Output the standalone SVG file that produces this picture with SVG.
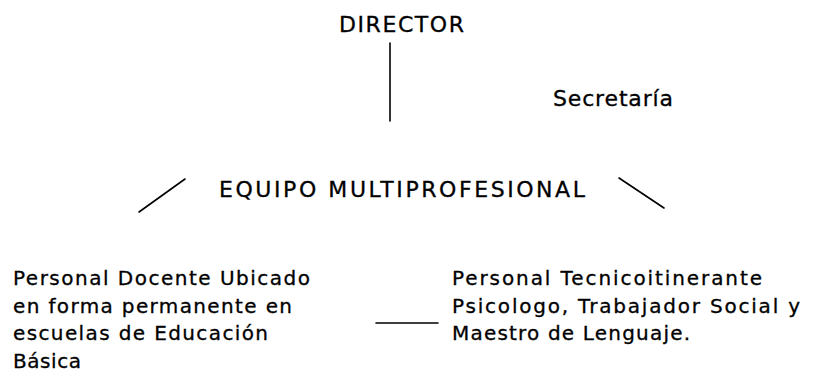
<svg xmlns="http://www.w3.org/2000/svg" width="813" height="377" viewBox="0 0 813 377">
<style>
  text { font-family: "DejaVu Sans", "Open Sans", sans-serif; fill: #000; stroke: #000; stroke-width: 0.3; }
  .h { font-size: 22px; }
  .b { font-size: 20px; }
  .ln { stroke: #000; stroke-width: 1.6; fill: none; stroke-linecap: round; }
</style>
<rect width="813" height="377" fill="#fff"/>
<g id="connectors">
  <line class="ln" x1="390" y1="43" x2="390" y2="121"/>
  <line class="ln" x1="139" y1="212" x2="185" y2="179"/>
  <line class="ln" x1="619" y1="178" x2="664" y2="208"/>
  <line class="ln" x1="376" y1="323" x2="438" y2="323" stroke-width="2"/>
</g>
<g id="director">
  <text class="h" x="339" y="32" textLength="125" lengthAdjust="spacing">DIRECTOR</text>
</g>
<g id="secretaria">
  <text class="h" x="553" y="106" textLength="120" lengthAdjust="spacing">Secretaría</text>
</g>
<g id="equipo">
  <text class="h" x="219" y="197" textLength="366" lengthAdjust="spacing">EQUIPO MULTIPROFESIONAL</text>
</g>
<g id="docente">
  <text class="b" x="13" y="285" textLength="297" lengthAdjust="spacing">Personal Docente Ubicado</text>
  <text class="b" x="13" y="313" textLength="279" lengthAdjust="spacing">en forma permanente en</text>
  <text class="b" x="13" y="340" textLength="255" lengthAdjust="spacing">escuelas de Educación</text>
  <text class="b" x="13" y="368" textLength="68" lengthAdjust="spacing">Básica</text>
</g>
<g id="tecnico">
  <text class="b" x="452" y="285" textLength="310" lengthAdjust="spacing">Personal Tecnicoitinerante</text>
  <text class="b" x="452" y="313" textLength="348" lengthAdjust="spacing">Psicologo, Trabajador Social y</text>
  <text class="b" x="452" y="340" textLength="238" lengthAdjust="spacing">Maestro de Lenguaje.</text>
</g>
</svg>
